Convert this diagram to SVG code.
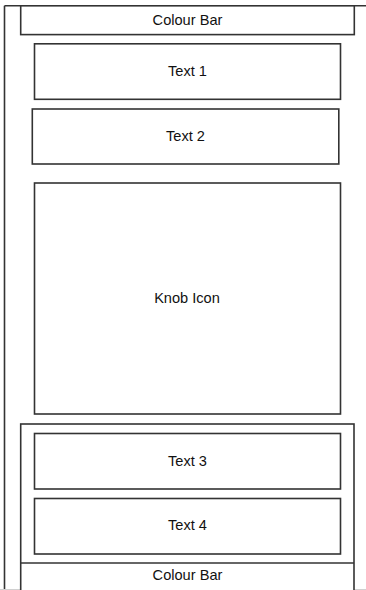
<svg xmlns="http://www.w3.org/2000/svg" width="366" height="590" viewBox="0 0 366 590">
<style>
.box{fill:#fff;stroke:#333;stroke-width:1.6}
.ln{fill:none;stroke:#333;stroke-width:1.6}
.lbl{font-family:"Liberation Sans",Arial,Helvetica,sans-serif;font-size:14.6px;fill:#111;text-anchor:middle}
</style>
<rect x="0" y="0" width="366" height="590" fill="#fff"/>
<g id="frame">
<line class="ln" x1="4.5" y1="5.8" x2="366" y2="5.8"/>
<line class="ln" x1="4.5" y1="5.8" x2="4.5" y2="590"/>
<line x1="0" y1="589.5" x2="366" y2="589.5" stroke="#d0d0d0" stroke-width="1"/>
</g>
<g id="colour-bar-top">
<rect class="box" x="20.7" y="5.8" width="333.6" height="28.8"/>
<text class="lbl" x="187.5" y="25">Colour Bar</text>
</g>
<g id="text1">
<rect class="box" x="34.5" y="43.8" width="306" height="55.5"/>
<text class="lbl" x="187.5" y="76">Text 1</text>
</g>
<g id="text2">
<rect class="box" x="32.3" y="109" width="306.5" height="55"/>
<text class="lbl" x="185.5" y="141">Text 2</text>
</g>
<g id="knob-icon">
<rect class="box" x="34.5" y="183" width="306" height="231"/>
<text class="lbl" x="187" y="303">Knob Icon</text>
</g>
<g id="lower-panel">
<rect class="box" x="20.7" y="424" width="333.3" height="170"/>
</g>
<g id="text3">
<rect class="box" x="34.5" y="433.5" width="306" height="55.5"/>
<text class="lbl" x="187.5" y="466">Text 3</text>
</g>
<g id="text4">
<rect class="box" x="34.5" y="498.5" width="306" height="55.5"/>
<text class="lbl" x="187.5" y="530">Text 4</text>
</g>
<g id="colour-bar-bottom">
<line class="ln" x1="20.7" y1="563" x2="354" y2="563"/>
<text class="lbl" x="187.5" y="580">Colour Bar</text>
</g>
<g id="connectors"/>
</svg>
